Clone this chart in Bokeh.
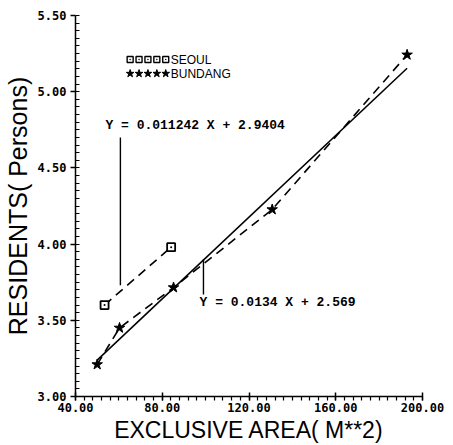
from bokeh.plotting import figure
from bokeh.models import Range1d, SingleIntervalTicker, NumeralTickFormatter, Label
from bokeh.embed import file_html
from bokeh.resources import INLINE

# ---- data ----
seoul_area = [53.4, 84.1]
seoul_residents = [3.60, 3.98]
bundang_area = [50.0, 60.3, 85.2, 130.7, 192.9]
bundang_residents = [3.21, 3.45, 3.715, 4.227, 5.242]
bundang_slope = 0.0134
bundang_intercept = 2.569
fit_area = [50.0, 192.9]
x_ticks = [40, 80, 120, 160, 200]
y_ticks = [3.0, 3.5, 4.0, 4.5, 5.0, 5.5]
eq_seoul = "Y = 0.011242 X + 2.9404"
eq_bundang = "Y = 0.0134 X + 2.569"
series_names = ["SEOUL", "BUNDANG"]
# equation pointers: x, y_top, y_bottom
ptr_seoul = [60.7, 4.70, 3.73]
ptr_bundang = [99.0, 3.90, 3.67]

fit_res = [bundang_slope * a + bundang_intercept for a in fit_area]

p = figure(width=453, height=445, output_backend="svg", toolbar_location=None,
           x_range=Range1d(40, 200), y_range=Range1d(3.0, 5.5),
           min_border_left=75, min_border_right=31, min_border_top=15,
           min_border_bottom=49)
p.outline_line_color = None
p.xgrid.visible = False
p.ygrid.visible = False
p.background_fill_color = "white"
p.border_fill_color = "white"

# axes
p.xaxis.ticker = SingleIntervalTicker(interval=40, num_minor_ticks=10)
p.yaxis.ticker = SingleIntervalTicker(interval=0.5, num_minor_ticks=10)
p.xaxis.formatter = NumeralTickFormatter(format="0.00")
p.yaxis.formatter = NumeralTickFormatter(format="0.00")
for ax in (p.xaxis[0], p.yaxis[0]):
    ax.axis_line_color = "black"
    ax.axis_line_width = 1.5
    ax.major_tick_line_color = "black"
    ax.minor_tick_line_color = "black"
    ax.major_tick_line_width = 1.5
    ax.minor_tick_line_width = 1.2
    ax.major_label_text_font = "DejaVu Sans Mono"
    ax.major_label_text_font_style = "bold"
    ax.major_label_text_font_size = "12px"
    ax.major_label_text_color = "black"
    ax.axis_label_text_font = "Liberation Sans"
    ax.axis_label_text_font_style = "normal"
    ax.axis_label_text_font_size = "23px"
    ax.axis_label_text_color = "black"

p.xaxis.axis_label = "EXCLUSIVE AREA( M**2)"
p.yaxis.axis_label = "RESIDENTS( Persons)"
p.yaxis.axis_label_text_font_size = "25px"
p.xaxis.major_tick_out = 4
p.xaxis.major_tick_in = 4
p.xaxis.minor_tick_out = 4
p.xaxis.minor_tick_in = 0
p.xaxis.major_label_standoff = 2
p.xaxis.axis_label_standoff = 2
p.yaxis.major_tick_out = 5
p.yaxis.major_tick_in = 0
p.yaxis.minor_tick_out = 0
p.yaxis.minor_tick_in = 4
p.yaxis.major_label_standoff = 4
p.yaxis.axis_label_standoff = 3

# regression line (Bundang)
p.line(fit_area, fit_res, line_color="black", line_width=1.6)
# data connected with dashed lines
p.line(seoul_area, seoul_residents, line_color="black", line_width=1.6, line_dash="9 6")
p.line(bundang_area, bundang_residents, line_color="black", line_width=1.6, line_dash="9 6")
p.scatter(seoul_area, seoul_residents, marker="square_dot", size=8,
          fill_color="white", line_color="black", line_width=1.8)
p.scatter(bundang_area, bundang_residents, marker="star", size=11,
          fill_color="black", line_color="black")

# equation pointers
p.segment(x0=[ptr_seoul[0], ptr_bundang[0]], y0=[ptr_seoul[1], ptr_bundang[1]],
          x1=[ptr_seoul[0], ptr_bundang[0]], y1=[ptr_seoul[2], ptr_bundang[2]],
          line_color="black", line_width=1.4)

eq_style = dict(text_font="Liberation Mono", text_font_style="bold",
                text_font_size="13px", text_color="black",
                text_align="left", text_baseline="middle")
p.add_layout(Label(x=53.8, y=4.778, text=eq_seoul, **eq_style))
p.add_layout(Label(x=97.2, y=3.617, text=eq_bundang, **eq_style))

# legend: a row of five sample markers followed by the series name
leg_x0, leg_dx = 65.2, 4.1
leg_rows_y = [5.211, 5.119]
leg_xs = [leg_x0 + i * leg_dx for i in range(5)]
p.scatter(leg_xs, [leg_rows_y[0]] * 5, marker="square_dot", size=6,
          fill_color="white", line_color="black", line_width=1.4)
p.scatter(leg_xs, [leg_rows_y[1]] * 5, marker="star", size=8,
          fill_color="black", line_color="black")
leg_text = dict(text_font="Liberation Sans", text_font_size="12px", text_color="black",
                text_align="left", text_baseline="middle")
for name, yy in zip(series_names, leg_rows_y):
    p.add_layout(Label(x=leg_xs[-1] + 2.3, y=yy, text=name, **leg_text))

open("out.html", "w").write(file_html(p, INLINE))
